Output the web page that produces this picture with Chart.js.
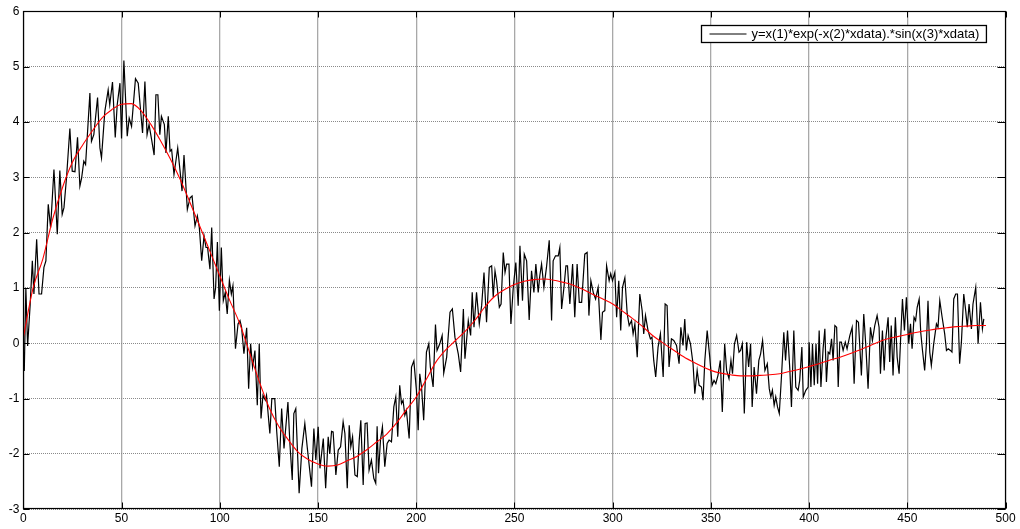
<!DOCTYPE html>
<html>
<head>
<meta charset="utf-8">
<script src="https://cdn.jsdelivr.net/npm/chart.js@4/dist/chart.umd.min.js"></script>
<style>
  html, body { margin: 0; padding: 0; background: #fff; }
  #wrap { width: 1020px; height: 529px; }
</style>
</head>
<body>
<div id="wrap"><canvas id="grafico"></canvas></div>
<script>
const xdata = [
  0.5, 1.3, 2.2, 3.5, 4.6, 5.4, 6.8, 8.0, 9.3, 10.5,
  11.5, 12.7, 13.9, 15.6, 17.3, 18.6, 19.8, 20.7, 22.0, 23.7,
  24.9, 26.3, 27.6, 28.8, 29.7, 30.8, 31.7, 33.9, 34.7, 35.9,
  37.8, 39.0, 39.8, 41.5, 43.2, 44.0, 45.4, 46.8, 47.8, 49.2,
  50.0, 51.2, 52.9, 53.9, 55.1, 57.1, 58.5, 60.7, 61.9, 63.0,
  64.0, 65.4, 66.6, 67.5, 68.5, 69.5, 70.3, 71.8, 72.6, 73.8,
  74.7, 75.5, 76.7, 78.6, 79.8, 80.8, 81.8, 83.5, 84.9, 85.9,
  87.4, 88.6, 89.6, 90.8, 92.0, 93.0, 93.8, 95.0, 95.9, 97.1,
  97.9, 98.8, 99.8, 100.8, 101.8, 102.8, 103.8, 104.9, 105.9, 106.7,
  108.0, 109.3, 110.3, 111.1, 112.3, 113.7, 114.7, 115.7, 116.7, 117.9,
  119.1, 120.1, 121.0, 122.0, 123.2, 123.8, 125.5, 126.5, 128.0, 129.0,
  130.3, 131.5, 132.7, 134.7, 135.7, 136.9, 137.7, 138.7, 140.4, 141.8,
  143.3, 144.5, 146.7, 147.9, 148.9, 150.1, 151.0, 152.7, 153.9, 155.2,
  156.0, 156.9, 157.7, 159.1, 160.3, 161.5, 162.8, 163.7, 164.9, 165.9,
  166.7, 167.6, 168.8, 170.0, 171.0, 171.8, 173.0, 174.0, 175.0, 176.0,
  177.2, 178.4, 179.4, 180.1, 180.8, 181.8, 182.8, 184.0, 185.2, 186.2,
  187.4, 188.6, 189.6, 190.6, 191.6, 192.5, 193.3, 194.2, 195.0, 196.4,
  197.6, 198.8, 200.1, 201.0, 201.8, 202.7, 203.8, 205.2, 206.4, 207.2,
  208.6, 209.8, 210.6, 212.0, 213.2, 214.0, 215.5, 217.2, 218.4, 219.7,
  221.4, 222.6, 224.0, 224.8, 226.5, 227.7, 228.5, 229.4, 230.7, 232.1,
  233.3, 234.5, 235.8, 237.2, 238.4, 239.2, 240.1, 240.9, 242.3, 243.2,
  244.3, 245.2, 246.0, 247.2, 248.2, 249.4, 250.7, 251.9, 252.8, 254.1,
  255.0, 256.2, 257.5, 258.7, 259.9, 260.9, 262.1, 262.9, 263.8, 265.0,
  266.3, 267.7, 268.9, 269.7, 270.9, 272.3, 273.1, 274.0, 275.2, 276.2,
  277.0, 278.2, 279.6, 280.7, 281.9, 283.0, 284.2, 285.8, 287.0, 287.9,
  288.9, 290.1, 291.3, 292.6, 294.0, 294.8, 296.0, 296.9, 298.2, 299.0,
  299.9, 301.1, 302.0, 303.1, 304.1, 305.0, 306.2, 307.4, 308.4, 309.6,
  310.4, 311.3, 312.5, 313.8, 315.0, 315.8, 316.7, 318.0, 319.2, 320.0,
  320.9, 321.9, 323.1, 324.3, 325.7, 326.7, 327.7, 328.7, 329.9, 331.1,
  332.5, 333.8, 334.7, 335.8, 336.7, 337.5, 338.4, 339.6, 340.9, 341.8,
  343.0, 344.0, 345.2, 346.0, 346.9, 348.1, 349.4, 350.6, 351.6, 352.5,
  353.6, 354.8, 355.8, 357.0, 358.0, 359.2, 360.2, 361.0, 362.0, 363.1,
  364.3, 365.1, 366.0, 367.0, 368.2, 369.2, 370.2, 371.0, 372.0, 373.2,
  374.4, 375.3, 376.3, 377.5, 378.7, 379.7, 380.5, 381.3, 382.2, 383.0,
  383.9, 384.8, 386.0, 387.1, 388.0, 389.0, 390.2, 391.0, 392.2, 393.2,
  394.4, 395.2, 396.3, 397.0, 398.3, 399.5, 400.0, 400.9, 401.7, 402.6,
  403.5, 404.3, 405.1, 406.0, 407.1, 408.0, 408.8, 409.7, 410.5, 411.4,
  412.2, 413.1, 414.0, 414.8, 415.6, 416.4, 417.3, 418.4, 419.3, 420.7,
  421.9, 422.9, 424.1, 425.1, 426.6, 427.8, 428.8, 430.0, 431.2, 432.2,
  433.4, 434.6, 435.6, 436.3, 437.3, 438.2, 439.0, 440.2, 441.0, 441.8,
  442.7, 443.9, 444.8, 445.8, 446.6, 447.5, 448.5, 449.5, 450.7, 451.6,
  452.4, 453.4, 454.2, 455.0, 456.0, 456.8, 457.7, 458.8, 459.7, 460.5,
  461.4, 462.2, 463.4, 464.8, 465.6, 466.5, 467.7, 469.0, 469.9, 470.8,
  471.9, 472.7, 473.6, 474.6, 475.5, 476.6, 477.5, 478.7, 479.7, 480.5,
  481.4, 482.6, 483.4, 484.8, 486.0, 487.2, 488.2, 488.9
];
const ydata = [
  -0.5, 1.0, -0.05, 0.7, 1.49, 0.89, 1.88, 0.89, 0.89, 1.37,
  1.49, 2.51, 2.09, 3.14, 1.97, 3.12, 2.33, 2.45, 2.99, 3.88,
  3.11, 3.1, 3.72, 2.84, 2.99, 3.29, 3.23, 4.52, 3.65, 3.77,
  4.44, 3.53, 3.35, 4.19, 4.58, 4.31, 4.72, 3.72, 4.31, 4.7,
  3.7, 5.11, 3.74, 4.07, 3.92, 4.78, 4.7, 3.8, 4.73, 3.77,
  3.95, 3.66, 3.4, 4.49, 4.49, 3.77, 4.1, 3.95, 3.44, 4.1,
  3.47, 3.5, 3.05, 3.53, 3.11, 2.75, 3.4, 2.42, 2.63, 2.66,
  2.12, 2.3, 2.09, 1.49, 1.94, 1.73, 1.73, 1.34, 2.09, 0.8,
  1.01, 1.83, 0.59, 1.73, 0.77, 0.92, 0.53, 1.14, 0.89, 1.04,
  -0.1, 0.35, 0.41, 0.29, -0.19, 0.28, -0.82, -0.01, -0.43, -0.13,
  -1.12, -0.01, -1.36, -0.94, -1.03, -0.94, -1.63, -1.0, -1.0, -1.6,
  -2.23, -1.18, -1.9, -1.06, -1.81, -2.47, -1.27, -1.18, -2.71, -1.9,
  -1.45, -1.87, -2.59, -1.54, -2.11, -1.51, -2.26, -1.72, -2.62, -1.69,
  -2.0, -1.59, -1.6, -2.38, -1.93, -1.87, -1.42, -1.63, -2.62, -1.48,
  -1.87, -1.69, -2.38, -2.41, -1.75, -1.39, -2.56, -1.45, -1.44, -2.29,
  -2.11, -2.44, -2.53, -1.5, -2.35, -1.75, -1.51, -2.23, -1.81, -1.75,
  -1.78, -1.15, -0.97, -1.69, -0.76, -1.09, -1.03, -1.3, -1.21, -1.72,
  -0.43, -0.32, -0.85, -1.57, -0.55, -0.79, -1.39, -0.16, -0.01, -0.43,
  -0.79, 0.34, -0.13, -0.01, 0.14, -0.54, -0.25, 0.56, 0.62, 0.11,
  -0.19, -0.52, 0.62, -0.28, 0.41, 0.14, 0.92, 0.29, 0.92, 0.35,
  0.68, 1.28, 0.38, 1.37, 1.4, 0.83, 1.31, 1.13, 0.65, 0.71,
  1.64, 1.28, 1.43, 1.43, 0.35, 1.01, 1.46, 0.68, 1.76, 0.77,
  1.61, 1.49, 0.42, 1.31, 0.92, 1.43, 0.92, 1.22, 1.43, 1.01,
  1.37, 1.86, 0.41, 1.49, 1.58, 1.58, 1.73, 0.62, 1.01, 1.4,
  1.4, 0.71, 1.43, 0.47, 1.43, 0.74, 0.74, 1.61, 1.64, 0.5,
  1.13, 0.92, 0.8, 1.01, 0.06, 0.56, 0.59, 1.4, 1.13, 1.26,
  1.13, 1.28, 0.47, 1.13, 0.23, 1.01, 1.18, 0.53, 0.32, 0.41,
  0.17, 0.35, -0.25, 0.89, 0.59, 0.17, 0.5, 0.23, 0.08, 0.11,
  -0.31, -0.61, -0.07, 0.17, -0.61, 0.71, 0.68, -0.43, 0.08, 0.05,
  -0.04, -0.37, 0.29, -0.04, 0.44, -0.13, 0.14, -0.01, -0.37, -0.91,
  -0.49, -0.76, -0.79, -1.03, -0.31, 0.23, -0.25, -0.76, -0.67, -0.73,
  -0.58, -0.31, -1.24, -0.01, -0.49, -0.64, -0.31, -0.55, -0.01, 0.14,
  -0.16, -0.13, -0.01, -1.27, 0.02, -0.43, -0.01, -1.15, -0.43, -0.91,
  -0.31, -0.19, 0.05, -0.49, -0.37, -0.82, -0.97, -0.85, -1.12, -0.97,
  -1.15, -1.27, -0.55, 0.2, -0.31, 0.23, -0.49, -1.15, 0.23, -0.79,
  -0.85, -0.67, -0.07, -0.97, -0.85, -0.79, 0.02, -0.79, -0.01, -0.76,
  -0.01, -0.73, 0.23, -0.79, -0.1, 0.26, -0.7, -0.16, -0.19, 0.08,
  -0.31, 0.32, 0.29, -0.79, 0.02, 0.02, -0.13, 0.02, -0.1, 0.14,
  0.29, -0.73, 0.41, 0.38, -0.58, 0.53, -0.01, -0.82, 0.29, 0.05,
  0.32, 0.5, 0.29, -0.55, 0.23, -0.49, 0.08, 0.47, -0.34, 0.32,
  -0.58, 0.47, -0.25, -0.55, 0.11, 0.8, 0.23, 0.83, -0.01, 0.35,
  -0.1, 0.47, 0.41, 0.65, 0.8, 0.2, -0.13, -0.49, -0.01, 0.77,
  -0.16, -0.4, -0.01, 0.35, 0.29, 0.77, 0.47, 0.17, -0.13, -0.1,
  -0.13, -0.16, 0.8, 0.89, 0.89, -0.37, 0.02, 0.89, 0.59, 0.29,
  0.71, 0.26, 0.71, 1.01, -0.01, 0.74, 0.26, 0.44
];

// fitted curve (red), read every 5 units
const fitX = [
  0, 5, 10, 15, 20, 25, 30, 35, 40, 45,
  50, 55, 60, 65, 70, 75, 80, 85, 90, 95,
  100, 105, 110, 115, 120, 125, 130, 135, 140, 145,
  150, 155, 160, 165, 170, 175, 180, 185, 190, 195,
  200, 205, 210, 215, 220, 225, 230, 235, 240, 245,
  250, 255, 260, 265, 270, 275, 280, 285, 290, 295,
  300, 305, 310, 315, 320, 325, 330, 335, 340, 345,
  350, 355, 360, 365, 370, 375, 380, 385, 390, 395,
  400, 405, 410, 415, 420, 425, 430, 435, 440, 445,
  450, 455, 460, 465, 470, 475, 480, 485, 490
];
const fitY = [
  0.1, 1.0, 1.53, 2.25, 2.82, 3.27, 3.57, 3.83, 4.07, 4.22,
  4.32, 4.33, 4.2, 3.95, 3.65, 3.32, 2.95, 2.53, 2.1, 1.66,
  1.22, 0.78, 0.37, -0.15, -0.68, -1.15, -1.5, -1.75, -1.97, -2.1,
  -2.18, -2.22, -2.2, -2.12, -2.04, -1.92, -1.78, -1.64, -1.44, -1.2,
  -0.97, -0.66, -0.34, -0.12, 0.05, 0.22, 0.42, 0.66, 0.85, 0.97,
  1.06, 1.12, 1.15, 1.16, 1.14, 1.1, 1.05, 0.97, 0.88, 0.8,
  0.71, 0.58, 0.45, 0.31, 0.15, 0.02, -0.1, -0.22, -0.32, -0.41,
  -0.49, -0.54, -0.57, -0.59, -0.59, -0.58, -0.57, -0.55, -0.51, -0.47,
  -0.42, -0.37, -0.31, -0.26, -0.2, -0.13, -0.06, 0.02, 0.08, 0.12,
  0.16, 0.2, 0.23, 0.26, 0.28, 0.3, 0.31, 0.32, 0.32
];

const xTicks = [0, 50, 100, 150, 200, 250, 300, 350, 400, 450, 500];
const yTicks = [-3, -2, -1, 0, 1, 2, 3, 4, 5, 6];
const legendLabel = 'y=x(1)*exp(-x(2)*xdata).*sin(x(3)*xdata)';

const fuente = '"Liberation Sans", Arial, sans-serif';

const medidos = xdata.map((x, i) => ({ x: x, y: ydata[i] }));
const ajuste = fitX.map((x, i) => ({ x: x, y: fitY[i] }));

// box around the axes, inward tick marks and the legend box (MATLAB look)
const marco = {
  id: 'marco',
  afterDraw(chart) {
    const { ctx, chartArea: a, scales } = chart;
    const L = Math.round(a.left) + 0.5, R = Math.round(a.right) - 0.5;
    const T = Math.round(a.top) + 0.5, B = Math.round(a.bottom) - 0.5;
    ctx.save();
    ctx.strokeStyle = '#000';
    ctx.lineWidth = 1.2;
    ctx.strokeRect(L, T, R - L, B - T);
    ctx.beginPath();
    ctx.lineWidth = 1;
    xTicks.forEach(v => {
      const px = Math.round(scales.x.getPixelForValue(v)) + 0.5;
      ctx.moveTo(px, B); ctx.lineTo(px, B - 6);
      ctx.moveTo(px, T); ctx.lineTo(px, T + 6);
    });
    yTicks.forEach(v => {
      const py = Math.round(scales.y.getPixelForValue(v)) + 0.5;
      ctx.moveTo(L, py); ctx.lineTo(L + 6, py);
      ctx.moveTo(R, py); ctx.lineTo(R - 8, py);
    });
    ctx.stroke();

    // legend
    const ds = chart.data.datasets[0];
    ctx.font = '13px ' + fuente;
    const tw = ctx.measureText(ds.label).width;
    const bw = tw + 57, bh = 17;
    const bx = Math.round(a.right - 20 - bw) + 0.5;
    const by = Math.round(a.top + 14) + 0.5;
    ctx.fillStyle = '#fff';
    ctx.fillRect(bx, by, bw, bh);
    ctx.lineWidth = 1.3;
    ctx.strokeRect(bx, by, bw, bh);
    ctx.beginPath();
    ctx.lineWidth = 1;
    ctx.strokeStyle = ds.borderColor;
    ctx.moveTo(bx + 8, by + bh / 2);
    ctx.lineTo(bx + 45, by + bh / 2);
    ctx.stroke();
    ctx.fillStyle = '#000';
    ctx.textBaseline = 'middle';
    ctx.fillText(ds.label, bx + 50, by + bh / 2 + 0.5);
    ctx.restore();
  }
};

new Chart(document.getElementById('grafico').getContext('2d'), {
  type: 'line',
  data: {
    datasets: [
      {
        label: legendLabel,
        data: medidos,
        borderColor: '#000',
        borderWidth: 1.2,
        pointRadius: 0,
        tension: 0,
        order: 2
      },
      {
        label: 'ajuste',
        data: ajuste,
        borderColor: '#ff0000',
        borderWidth: 1.1,
        pointRadius: 0,
        cubicInterpolationMode: 'monotone',
        order: 1
      }
    ]
  },
  options: {
    responsive: true,
    maintainAspectRatio: false,
    animation: false,
    layout: { padding: { left: 0, right: 14.4, top: 9.5, bottom: 0 } },
    plugins: {
      legend: { display: false },
      tooltip: { enabled: false }
    },
    scales: {
      x: {
        type: 'linear',
        min: 0,
        max: 500,
        afterFit: s => { s.height = 19.7; },
        afterBuildTicks: s => { s.ticks = xTicks.map(v => ({ value: v })); },
        ticks: { color: '#000', padding: 2, maxRotation: 0, font: { family: fuente, size: 12 } },
        grid: { color: '#a8a8a8', lineWidth: 1.3, drawTicks: false },
        border: { display: false }
      },
      y: {
        min: -3,
        max: 6,
        afterFit: s => { s.width = 23.3; },
        afterBuildTicks: s => { s.ticks = yTicks.map(v => ({ value: v })); },
        ticks: { color: '#000', padding: 4, font: { family: fuente, size: 12 } },
        grid: { color: '#8a8a8a', lineWidth: 1, drawTicks: false },
        border: { display: false, dash: [1, 1] }
      }
    }
  },
  plugins: [marco]
});
</script>
</body>
</html>
